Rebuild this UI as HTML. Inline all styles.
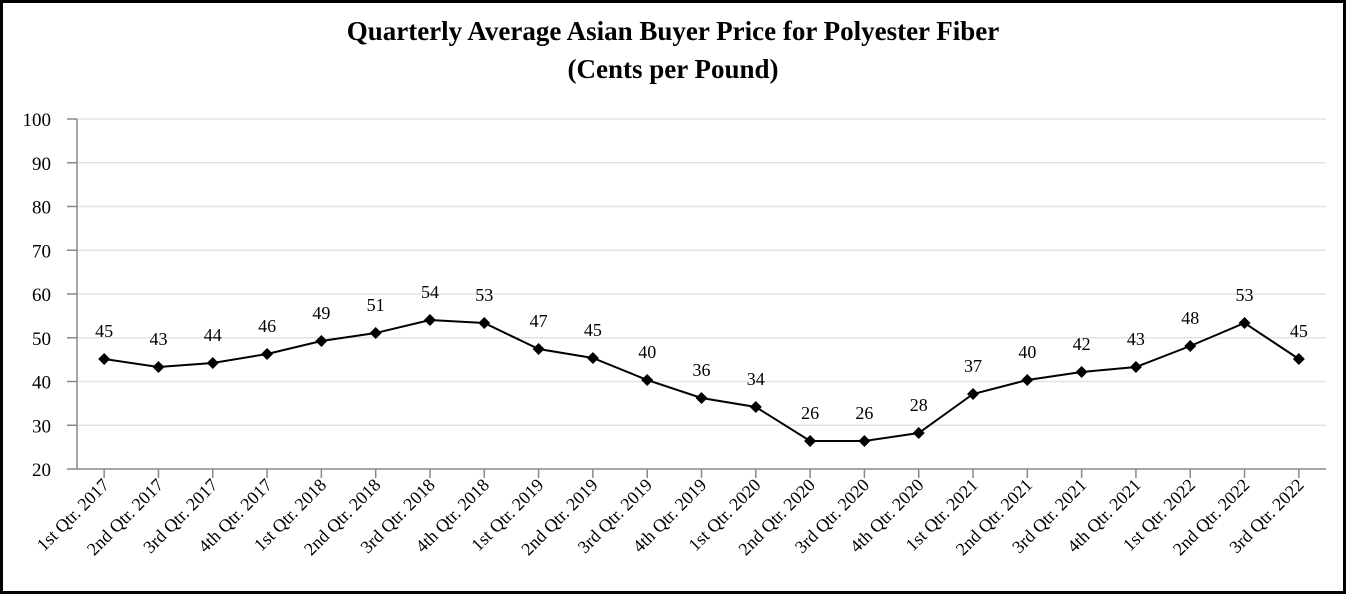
<!DOCTYPE html>
<html><head><meta charset="utf-8"><style>
html,body{margin:0;padding:0;background:#fff}
svg{display:block}
text{font-family:"Liberation Serif",serif;fill:#000}
</style></head><body>
<svg width="1346" height="594" viewBox="0 0 1346 594" xmlns="http://www.w3.org/2000/svg">
<rect x="1.5" y="1.5" width="1343" height="591" fill="#fff" stroke="#000" stroke-width="3"/>
<text x="673" y="40" font-size="27" font-weight="bold" text-anchor="middle">Quarterly Average Asian Buyer Price for Polyester Fiber</text>
<text x="673" y="78" font-size="27" font-weight="bold" text-anchor="middle">(Cents per Pound)</text>
<g id="chart"></g>
<script>
(function(){
var g=document.getElementById('chart'),ns='http://www.w3.org/2000/svg';
function el(n,a,t){var e=document.createElementNS(ns,n);for(var k in a)e.setAttribute(k,a[k]);if(t!=null)e.textContent=t;g.appendChild(e);return e;}
var L=77,R=1326,T=119,B=469;
function Y(v){return B-(v-20)*(B-T)/80;}
for(var v=20;v<=100;v+=10){var y=Y(v);
 if(v>20)el('line',{x1:L,x2:R,y1:y,y2:y,stroke:'#e3e3e3','stroke-width':1.5});
 el('line',{x1:67,x2:L,y1:y,y2:y,stroke:'#888','stroke-width':1.5});
 el('text',{x:51,y:y+7,'font-size':19,'text-anchor':'end'},v);}
el('line',{x1:L,x2:L,y1:T,y2:B,stroke:'#888','stroke-width':1.5});
el('line',{x1:L,x2:R,y1:B,y2:B,stroke:'#888','stroke-width':1.5});
var py=[359,367,363,354,341,333,320,323,349,358,380,398,407,441,441,433,394,380,372,367,346,323,359];
var lab=[45,43,44,46,49,51,54,53,47,45,40,36,34,26,26,28,37,40,42,43,48,53,45];
var cats=[],q=['1st','2nd','3rd','4th'];
for(var i=0;i<23;i++){var yr=2017+Math.floor(i/4);cats.push(q[i%4]+' Qtr. '+yr);}
var w=(R-L)/23,pts=[];
for(var i=0;i<23;i++){var x=L+w*(i+0.5);pts.push(x+','+py[i]);
 el('line',{x1:x,x2:x,y1:B,y2:B+9,stroke:'#888','stroke-width':1.5});
 el('text',{x:0,y:0,'font-size':18,'text-anchor':'end',transform:'translate('+(x+6)+','+(B+17)+') rotate(-45)'},cats[i]);
 el('text',{x:x,y:py[i]-22,'font-size':18,'text-anchor':'middle'},lab[i]);}
el('polyline',{points:pts.join(' '),fill:'none',stroke:'#000','stroke-width':2});
for(var i=0;i<23;i++){var x=L+w*(i+0.5),y=py[i];
 el('polygon',{points:(x)+','+(y-6)+' '+(x+6)+','+y+' '+x+','+(y+6)+' '+(x-6)+','+y,fill:'#000'});}
})();
</script>
</svg>
</body></html>
